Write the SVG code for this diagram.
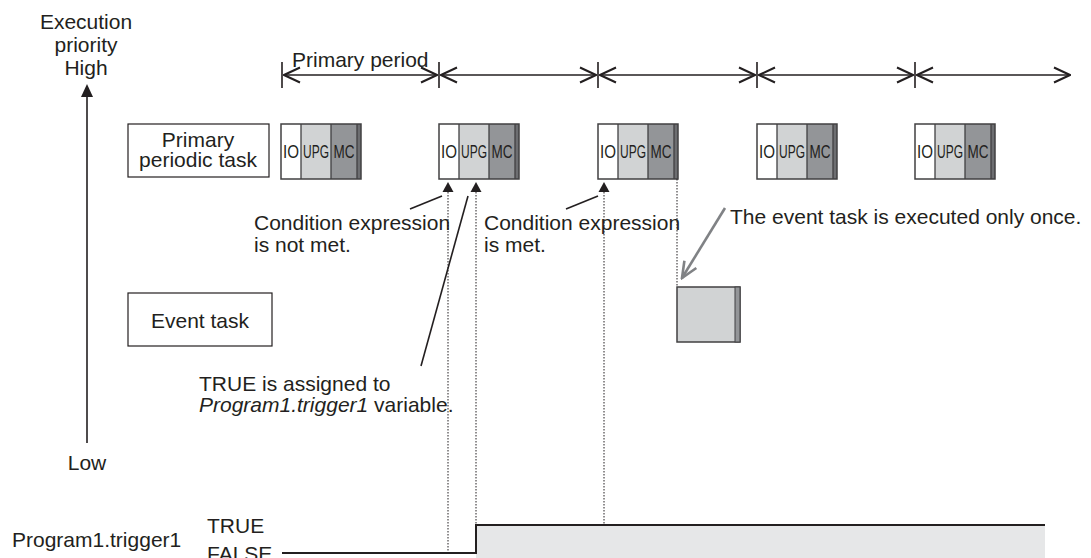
<svg xmlns="http://www.w3.org/2000/svg" width="1091" height="558" viewBox="0 0 1091 558">
<style>
text{font-family:"Liberation Sans",Arial,sans-serif;font-size:21px;fill:#231f20}
.c{text-anchor:middle}
.bt{font-size:18px;text-anchor:middle}
.ln{stroke:#231f20;stroke-width:1.6;fill:none}
.dot{stroke:#231f20;stroke-width:1;stroke-dasharray:1.5 1.5;fill:none}
.box{fill:#fff;stroke:#231f20;stroke-width:1.2}
.tri{fill:#231f20}
</style>
<defs>
<marker id="v" viewBox="0 0 18 18" refX="17" refY="9" markerWidth="18" markerHeight="18" markerUnits="userSpaceOnUse" orient="auto-start-reverse">
<path d="M1,1.5 L17,9 L1,16.5" fill="none" stroke="#231f20" stroke-width="2"/>
</marker>
<marker id="g" viewBox="0 0 20 20" refX="18" refY="10" markerWidth="20" markerHeight="20" markerUnits="userSpaceOnUse" orient="auto">
<path d="M2,3 L18,10 L2,17" fill="none" stroke="#808285" stroke-width="2.6"/>
</marker>
<g id="blk">
<rect x="0" y="0" width="80" height="55" fill="#fff"/>
<rect x="20" y="0" width="30" height="55" fill="#d1d3d4"/>
<rect x="50" y="0" width="26" height="55" fill="#939598"/>
<rect x="76" y="0" width="4" height="55" fill="#6d6e71"/>
<path d="M20,0V55M50,0V55M76,0V55" stroke="#414042" stroke-width="1.3"/>
<rect x="0" y="0" width="80" height="55" fill="none" stroke="#414042" stroke-width="1.5"/>
</g>
</defs>

<g id="axis">
<text class="c" x="86" y="29">Execution</text>
<text class="c" x="86" y="52">priority</text>
<text class="c" x="86" y="75">High</text>
<line class="ln" x1="87" y1="95" x2="87" y2="443"/>
<path class="tri" d="M87,84 L93,97 L81,97Z"/>
<text class="c" x="87" y="470">Low</text>
</g>

<g id="periods">
<text x="292" y="67">Primary period</text>
<path class="ln" d="M282,62V88M439,62V88M598,62V88M757,62V88M915,62V88"/>
<line class="ln" x1="284" y1="75" x2="437" y2="75" marker-start="url(#v)" marker-end="url(#v)"/>
<line class="ln" x1="441" y1="75" x2="596" y2="75" marker-start="url(#v)" marker-end="url(#v)"/>
<line class="ln" x1="600" y1="75" x2="755" y2="75" marker-start="url(#v)" marker-end="url(#v)"/>
<line class="ln" x1="759" y1="75" x2="913" y2="75" marker-start="url(#v)" marker-end="url(#v)"/>
<line class="ln" x1="917" y1="75" x2="1070" y2="75" marker-start="url(#v)" marker-end="url(#v)"/>
</g>

<g id="primary-task">
<rect class="box" x="128" y="124" width="141" height="53"/>
<text class="c" x="198" y="147">Primary</text>
<text class="c" x="198" y="167">periodic task</text>
</g>

<g id="cycle1">
<use href="#blk" x="281" y="124"/>
<text class="bt" x="291" y="158" textLength="16" lengthAdjust="spacingAndGlyphs">IO</text>
<text class="bt" x="316" y="158" textLength="26" lengthAdjust="spacingAndGlyphs">UPG</text>
<text class="bt" x="344" y="158" textLength="21" lengthAdjust="spacingAndGlyphs">MC</text>
</g>
<g id="cycle2">
<use href="#blk" x="439" y="124"/>
<text class="bt" x="449" y="158" textLength="16" lengthAdjust="spacingAndGlyphs">IO</text>
<text class="bt" x="474" y="158" textLength="26" lengthAdjust="spacingAndGlyphs">UPG</text>
<text class="bt" x="502" y="158" textLength="21" lengthAdjust="spacingAndGlyphs">MC</text>
</g>
<g id="cycle3">
<use href="#blk" x="598" y="124"/>
<text class="bt" x="608" y="158" textLength="16" lengthAdjust="spacingAndGlyphs">IO</text>
<text class="bt" x="633" y="158" textLength="26" lengthAdjust="spacingAndGlyphs">UPG</text>
<text class="bt" x="661" y="158" textLength="21" lengthAdjust="spacingAndGlyphs">MC</text>
</g>
<g id="cycle4">
<use href="#blk" x="757" y="124"/>
<text class="bt" x="767" y="158" textLength="16" lengthAdjust="spacingAndGlyphs">IO</text>
<text class="bt" x="792" y="158" textLength="26" lengthAdjust="spacingAndGlyphs">UPG</text>
<text class="bt" x="820" y="158" textLength="21" lengthAdjust="spacingAndGlyphs">MC</text>
</g>
<g id="cycle5">
<use href="#blk" x="915" y="124"/>
<text class="bt" x="925" y="158" textLength="16" lengthAdjust="spacingAndGlyphs">IO</text>
<text class="bt" x="950" y="158" textLength="26" lengthAdjust="spacingAndGlyphs">UPG</text>
<text class="bt" x="978" y="158" textLength="21" lengthAdjust="spacingAndGlyphs">MC</text>
</g>

<g id="event-task">
<rect class="box" x="128" y="293" width="144" height="53"/>
<text class="c" x="200" y="328">Event task</text>
</g>

<g id="event-exec">
<rect x="677" y="287" width="63" height="55" fill="#d1d3d4" stroke="#414042" stroke-width="1.5"/>
<rect x="735" y="287" width="5" height="55" fill="#939598" stroke="#414042" stroke-width="1"/>
</g>

<g id="notes">
<text x="254" y="230">Condition expression</text>
<text x="254" y="252">is not met.</text>
<text x="484" y="230">Condition expression</text>
<text x="484" y="252">is met.</text>
<text x="730" y="224">The event task is executed only once.</text>
<text x="199" y="391">TRUE is assigned to</text>
<text x="199" y="412"><tspan font-style="italic">Program1.trigger1</tspan> variable.</text>
</g>

<g id="signal">
<text x="12" y="547">Program1.trigger1</text>
<text x="207" y="533">TRUE</text>
<text x="207" y="561">FALSE</text>
<rect x="476" y="525" width="569" height="33" fill="#e6e7e8"/>
<path d="M282,553H476V525H1045" fill="none" stroke="#231f20" stroke-width="2"/>
</g>

<g id="connectors">
<path class="dot" d="M448,192V553M476,192V524M604,192V524M677,179V287"/>
<path class="tri" d="M448,182 L453.5,192 L442.5,192Z"/>
<path class="tri" d="M476,182 L481.5,192 L470.5,192Z"/>
<path class="tri" d="M604,182 L609.5,192 L598.5,192Z"/>
<line class="ln" x1="410" y1="209" x2="442" y2="196"/>
<line class="ln" x1="566" y1="209" x2="598" y2="196"/>
<line class="ln" x1="468" y1="196" x2="421" y2="366"/>
<line x1="725" y1="208" x2="682" y2="278" stroke="#808285" stroke-width="2.6" marker-end="url(#g)"/>
</g>
</svg>
